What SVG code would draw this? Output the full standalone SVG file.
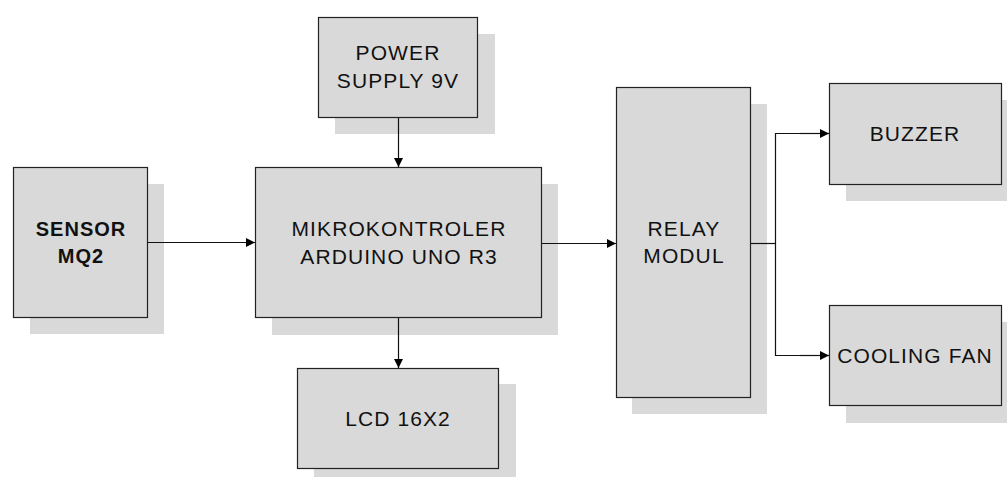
<svg xmlns="http://www.w3.org/2000/svg" width="1007" height="477" viewBox="0 0 1007 477">
<style>
.sh{fill:#d9d9d9;stroke:none}
.bx{fill:#d9d9d9;stroke:#222;stroke-width:1.2}
.t{font-family:"Liberation Sans",Arial,sans-serif;font-size:21px;fill:#111;text-anchor:middle;letter-spacing:1.1px}
.b{font-weight:bold;font-size:20px;letter-spacing:1px}
.c{fill:none;stroke:#111;stroke-width:1.2}
</style>
<defs>
<marker id="ah" viewBox="0 0 10 10" refX="10" refY="5" markerWidth="10" markerHeight="9" markerUnits="userSpaceOnUse" orient="auto">
<path d="M0,0 L10,5 L0,10 z" fill="#000"/>
</marker>
</defs>
<rect width="1007" height="477" fill="#fff"/>
<g id="sensor">
<rect class="sh" x="30" y="184" width="134" height="150"/>
<rect class="bx" x="13.5" y="167.5" width="134" height="150"/>
<text class="t b" x="81" y="236">SENSOR</text>
<text class="t b" x="81" y="263">MQ2</text>
</g>
<g id="power">
<rect class="sh" x="335" y="34" width="160" height="100"/>
<rect class="bx" x="318.5" y="17.5" width="159" height="100"/>
<text class="t" x="398" y="60">POWER</text>
<text class="t" x="398" y="88">SUPPLY 9V</text>
</g>
<g id="mikro">
<rect class="sh" x="272" y="184" width="286" height="151"/>
<rect class="bx" x="255.5" y="167.5" width="286" height="150"/>
<text class="t" x="399" y="236">MIKROKONTROLER</text>
<text class="t" x="399" y="264">ARDUINO UNO R3</text>
</g>
<g id="lcd">
<rect class="sh" x="314" y="384" width="202" height="100"/>
<rect class="bx" x="297.5" y="368.5" width="201" height="100"/>
<text class="t" x="398" y="426">LCD 16X2</text>
</g>
<g id="relay">
<rect class="sh" x="632" y="104" width="135" height="310"/>
<rect class="bx" x="616.5" y="87.5" width="134" height="310"/>
<text class="t" x="684" y="236">RELAY</text>
<text class="t" x="684" y="263">MODUL</text>
</g>
<g id="buzzer">
<rect class="sh" x="846" y="100" width="172" height="101"/>
<rect class="bx" x="829.5" y="83.5" width="172" height="101"/>
<text class="t" x="915" y="141">BUZZER</text>
</g>
<g id="fan">
<rect class="sh" x="846" y="322" width="172" height="101"/>
<rect class="bx" x="829.5" y="305.5" width="172" height="100"/>
<text class="t" x="915" y="363">COOLING FAN</text>
</g>
<g id="connectors">
<line class="c" x1="148" y1="242.5" x2="255" y2="242.5" marker-end="url(#ah)"/>
<line class="c" x1="398.5" y1="118" x2="398.5" y2="167" marker-end="url(#ah)"/>
<line class="c" x1="398.5" y1="318" x2="398.5" y2="368" marker-end="url(#ah)"/>
<line class="c" x1="542" y1="243.5" x2="616" y2="243.5" marker-end="url(#ah)"/>
<line class="c" x1="751" y1="243.5" x2="775.5" y2="243.5"/>
<polyline class="c" points="829,133.5 775.5,133.5 775.5,355.5 829,355.5"/>
<line class="c" x1="800" y1="133.5" x2="829" y2="133.5" marker-end="url(#ah)"/>
<line class="c" x1="800" y1="355.5" x2="829" y2="355.5" marker-end="url(#ah)"/>
</g>
</svg>
